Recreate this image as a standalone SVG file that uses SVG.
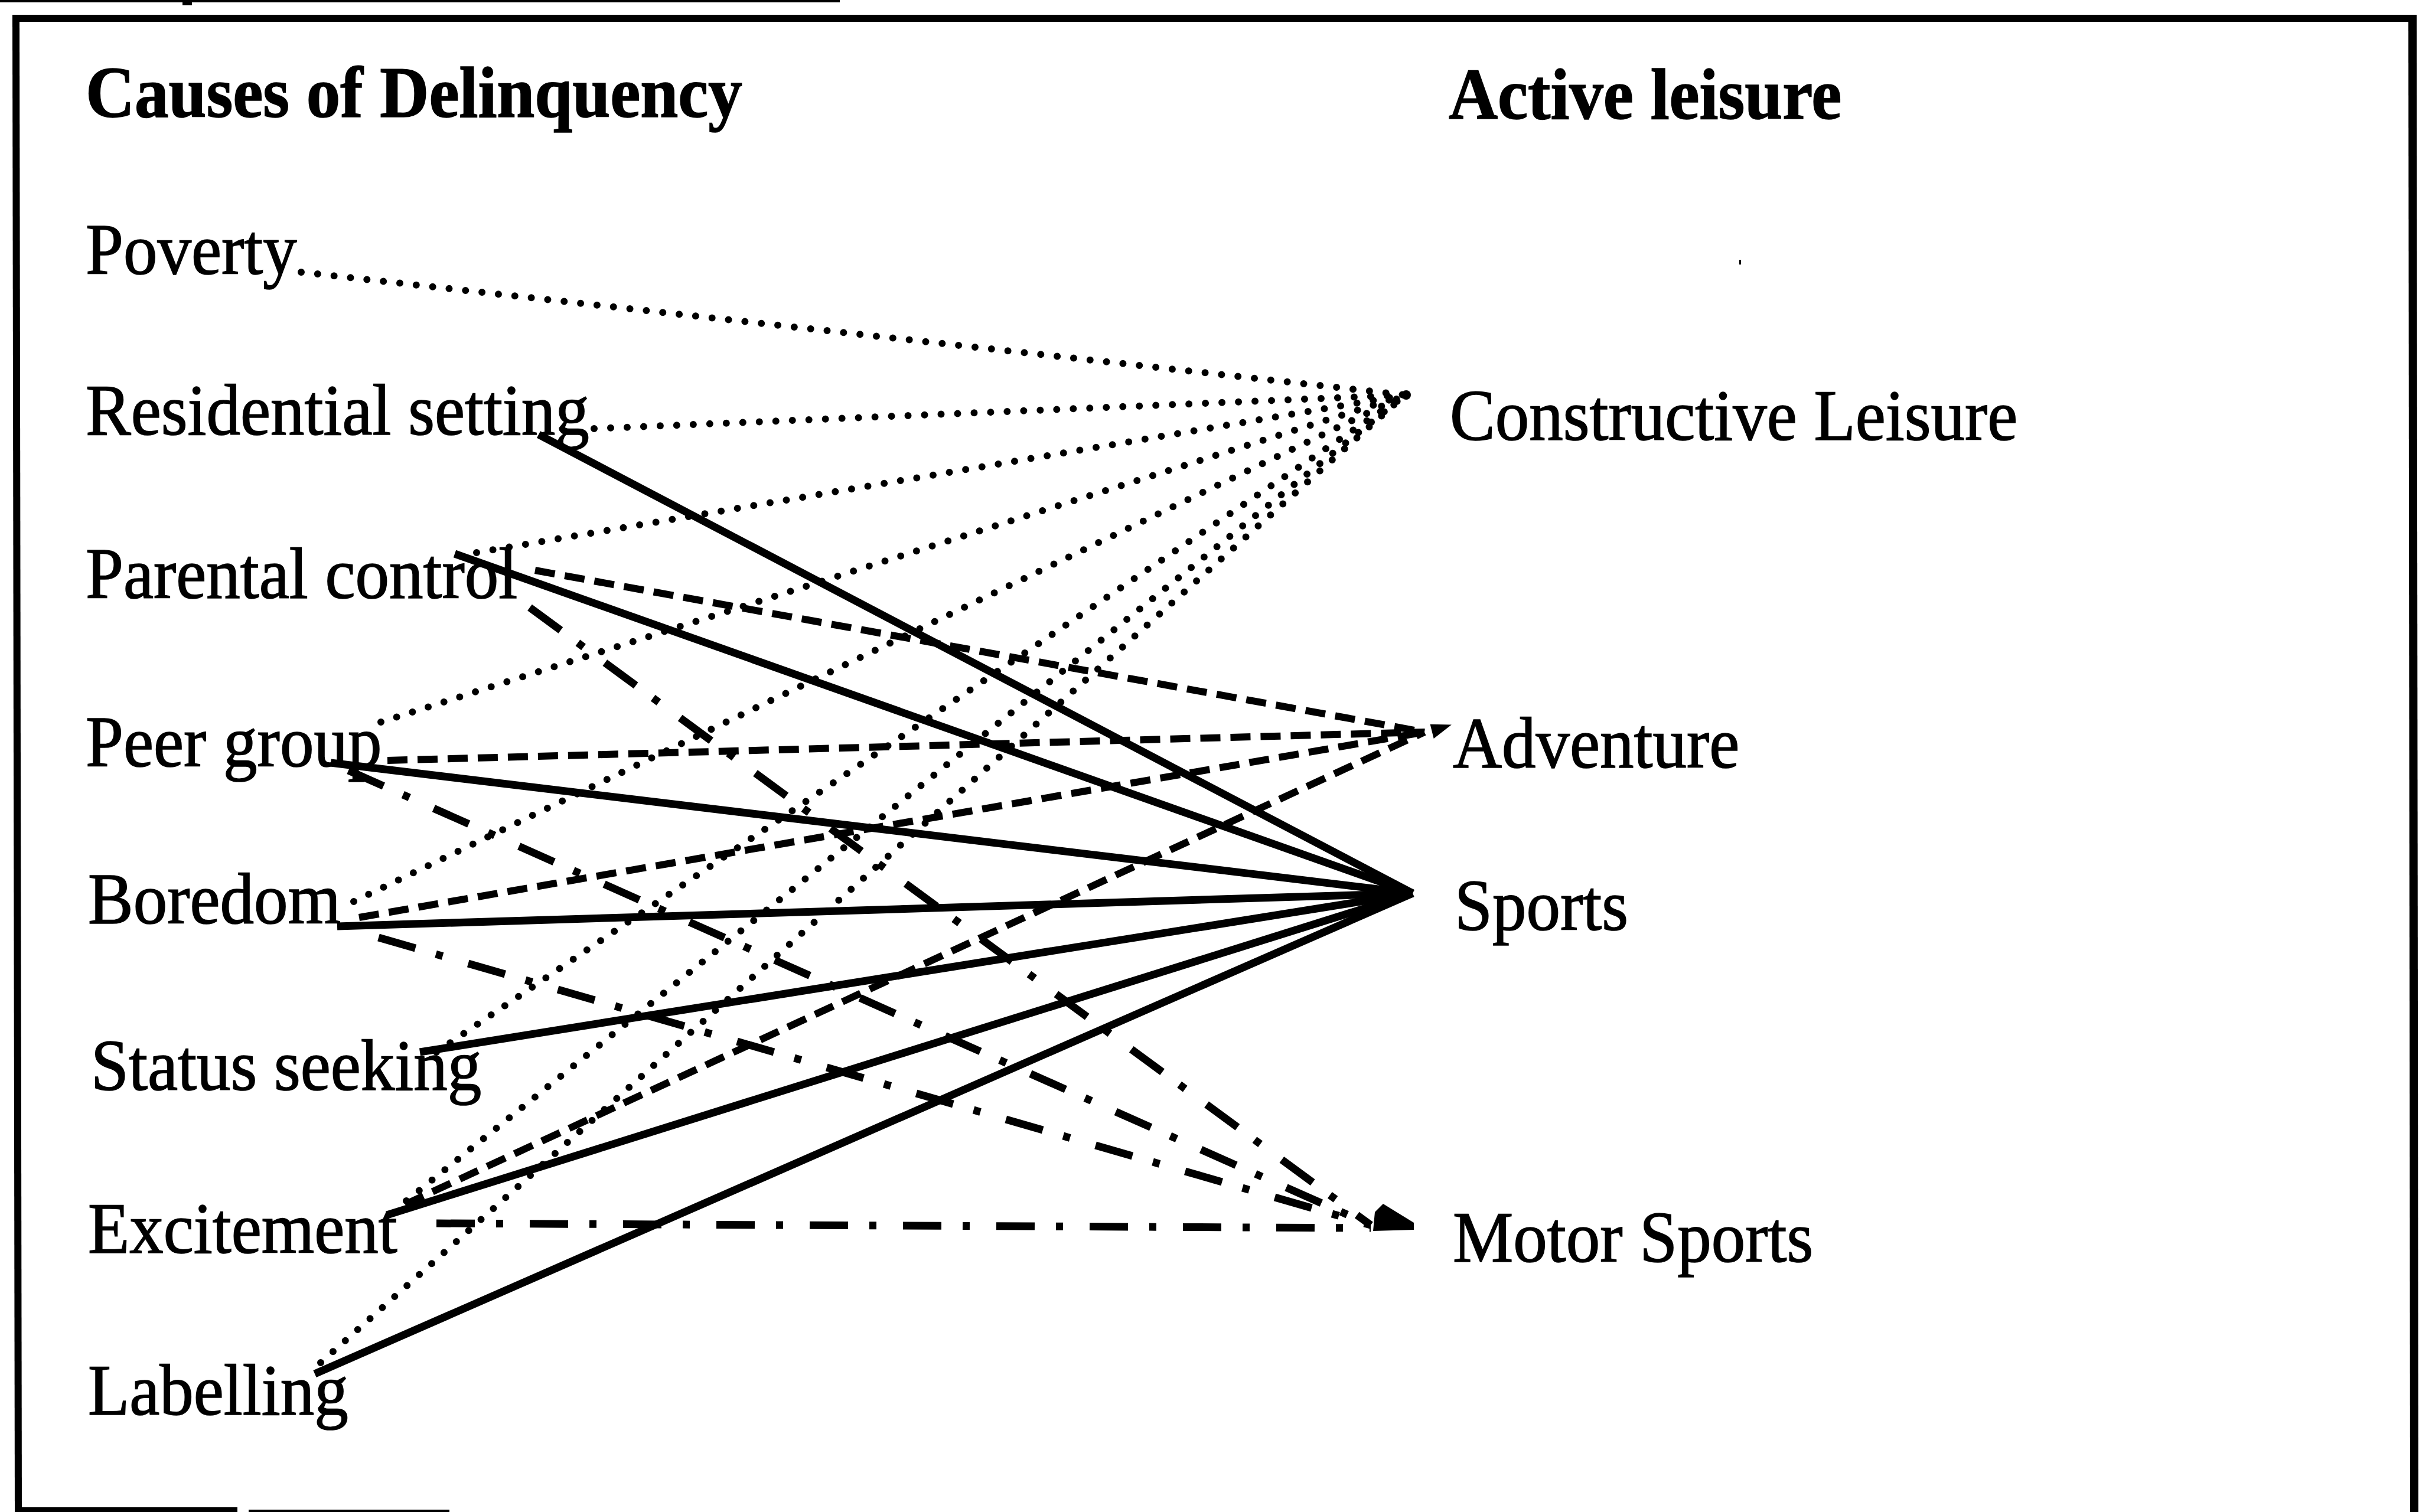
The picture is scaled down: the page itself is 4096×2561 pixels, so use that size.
<svg xmlns="http://www.w3.org/2000/svg" width="4096" height="2561" viewBox="0 0 4096 2561">
<style>
text{font-family:"Liberation Serif","Times New Roman",serif;font-size:115px;fill:#000;stroke:#000;stroke-width:1.5}
.h{font-weight:bold}
.c line{fill:none;stroke:#000}
.solid{stroke-width:13}
.dot{stroke-width:12;stroke-linecap:round;stroke-dasharray:0 28}
.dash{stroke-width:12;stroke-dasharray:34 17}
.dd{stroke-width:13;stroke-dasharray:65 36 12 45}
.fr{stroke:#000;fill:none}
</style>
<rect width="4096" height="2561" fill="#fff"/>
<g id="frame">
<rect x="0" y="0" width="1422" height="4" fill="#000"/>
<rect x="309" y="0" width="16" height="9" fill="#000"/>
<line class="fr" x1="21" y1="31" x2="4092" y2="31" stroke-width="12"/>
<line class="fr" x1="27" y1="25" x2="31" y2="2561" stroke-width="12"/>
<line class="fr" x1="4085" y1="25" x2="4088" y2="2561" stroke-width="14"/>
<rect x="26" y="2553" width="376" height="8" fill="#000"/>
<rect x="421" y="2557" width="340" height="4" fill="#000"/>
<rect x="2945" y="440" width="3" height="8" fill="#000"/>
</g>
<g id="connectors" class="c">
<line class="dot" x1="510" y1="461" x2="2379" y2="669"/>
<line class="dot" x1="1006" y1="726" x2="2379" y2="669"/>
<line class="dot" x1="807" y1="936" x2="2379" y2="669"/>
<line class="dot" x1="645" y1="1223" x2="2379" y2="669"/>
<line class="dot" x1="599" y1="1527" x2="2379" y2="669"/>
<line class="dot" x1="739" y1="1782" x2="2379" y2="669"/>
<line class="dot" x1="688" y1="2034" x2="2379" y2="669"/>
<line class="dot" x1="543" y1="2308" x2="2379" y2="669"/>
<line class="dash" x1="906" y1="966" x2="2412" y2="1240"/>
<line class="dash" x1="656" y1="1288" x2="2412" y2="1240"/>
<line class="dash" x1="608" y1="1554" x2="2412" y2="1240"/>
<line class="dash" x1="686" y1="2040" x2="2412" y2="1240"/>
<line class="solid" x1="912" y1="736" x2="2392" y2="1513"/>
<line class="solid" x1="770" y1="938" x2="2392" y2="1513"/>
<line class="solid" x1="560" y1="1292" x2="2392" y2="1513"/>
<line class="solid" x1="571" y1="1569" x2="2392" y2="1513"/>
<line class="solid" x1="711" y1="1782" x2="2392" y2="1513"/>
<line class="solid" x1="655" y1="2058" x2="2392" y2="1513"/>
<line class="solid" x1="533" y1="2327" x2="2392" y2="1513"/>
<line class="dd" x1="897" y1="1029" x2="2321" y2="2075"/>
<line class="dd" x1="590" y1="1305" x2="2321" y2="2075"/>
<line class="dd" x1="641" y1="1588" x2="2321" y2="2075"/>
<line class="dd" x1="739" y1="2072" x2="2321" y2="2080"/>
<circle cx="2381" cy="669" r="8" fill="#000"/>
<polygon points="2421.6,1226.8 2457.8,1227.6 2427.7,1250.9" fill="#000"/>
<polygon points="2325,2085 2328,2053 2342,2039 2394,2071 2394,2083" fill="#000"/>
</g>
<g id="n-causes"><text class="h" x="145" y="197.6" transform="matrix(1 0 0 1.06 0 -11.86)">Causes of Delinquency</text></g>
<g id="n-active"><text class="h" x="2453" y="201" transform="matrix(1 0 0 1.06 0 -12.06)">Active leisure</text></g>
<g id="n-poverty"><text x="145" y="464" transform="matrix(1 0 0 1.06 0 -27.84)">Poverty</text></g>
<g id="n-residential"><text x="145" y="736" transform="matrix(1 0 0 1.06 0 -44.16)">Residential setting</text></g>
<g id="n-parental"><text x="145" y="1013" transform="matrix(1 0 0 1.06 0 -60.78)">Parental control</text></g>
<g id="n-peer"><text x="145" y="1298" transform="matrix(1 0 0 1.06 0 -77.88)">Peer group</text></g>
<g id="n-boredom"><text x="149" y="1564" transform="matrix(1 0 0 1.06 0 -93.84)">Boredom</text></g>
<g id="n-status"><text x="154" y="1846" transform="matrix(1 0 0 1.06 0 -110.76)">Status seeking</text></g>
<g id="n-excitement"><text x="149" y="2122" transform="matrix(1 0 0 1.06 0 -127.32)">Excitement</text></g>
<g id="n-labelling"><text x="149" y="2396" transform="matrix(1 0 0 1.06 0 -143.76)">Labelling</text></g>
<g id="n-constructive"><text x="2455" y="745" transform="matrix(1 0 0 1.06 0 -44.7)">Constructive Leisure</text></g>
<g id="n-adventure"><text x="2460" y="1300" transform="matrix(1 0 0 1.06 0 -78)">Adventure</text></g>
<g id="n-sports"><text x="2463" y="1575" transform="matrix(1 0 0 1.06 0 -94.5)">Sports</text></g>
<g id="n-motor"><text x="2460" y="2137" transform="matrix(1 0 0 1.06 0 -128.22)">Motor Sports</text></g>
</svg>
